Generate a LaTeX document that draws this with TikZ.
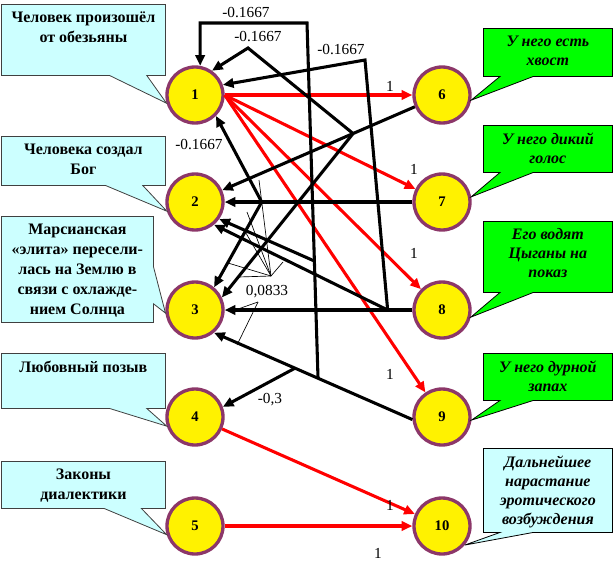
\documentclass[tikz,border=0pt]{standalone}
\usepackage{fontspec}
\setmainfont{Liberation Serif}
\usetikzlibrary{arrows.meta,shapes.callouts,calc}
\definecolor{noteblue}{RGB}{204,255,255}
\definecolor{notegreen}{RGB}{0,255,0}
\definecolor{rim}{RGB}{140,55,105}
\newcommand\DrawNote[7]{
	\node [#1, anchor=north west, minimum width=#4*0.75pt, minimum height=#5*0.75pt, callout absolute pointer={(#6)}] (#2) at (#3)
		{\parbox[c][\dimexpr #5pt*3/4\relax][t]{\dimexpr #4pt*3/4\relax}{\centering\vspace*{5.5pt}#7}};
}
\newcommand*{\xLeft}{195}
\newcommand*{\xRight}{442}

\begin{document}
\begin{tikzpicture}[x=0.75pt, y=-0.75pt,
	vertex/.style={circle, draw=rim, line width=2.5pt, fill=yellow, minimum size=42pt, inner sep=0pt, font=\fontsize{11}{13}\selectfont\bfseries},
	leftnote/.style={rectangle callout, draw=black!75, line width=0.6pt, fill=noteblue, inner sep=0pt, callout pointer width=28pt, font=\fontsize{12}{15}\selectfont\bfseries},
	rightnote/.style={leftnote, draw=black, fill=notegreen, callout pointer width=25pt, font=\fontsize{12}{14.3}\selectfont\bfseries\itshape},
	endnote/.style={rightnote, fill=noteblue},
	link/.style={draw, line width=2.3pt, -{Triangle[length=8pt,width=7pt]}},
	excite/.style={link, red},
	inhibit/.style={link, black},
	lead/.style={draw, line width=0.5pt},
	weight/.style={font=\fontsize{11.5}{13}\selectfont, inner sep=1pt}]
	\useasboundingbox (0,0) rectangle (614,565);
	\foreach \i/\y in {1/95,2/202,3/310,4/417,5/526}
	{
		\node [vertex] (n\i) at (\xLeft,\y) {\i};
	}
	\foreach \i/\y in {6/95,7/202,8/310,9/417,10/526}
	{
		\node [vertex] (n\i) at (\xRight,\y) {\i};
	}
	\foreach \j in {6,7,8,9}
	{
		\path [excite] (n1.east) -- (n\j);
	}
	\path [excite] (n4) -- (n10);
	\path [excite] (n5) -- (n10);
	\coordinate (j6) at ($(n6)!0.36!(n2)$);
	\coordinate (j7) at ($(n7)!0.73!(n2)$);
	\coordinate (j8) at ($(n8)!0.22!(n3)$);
	\coordinate (j9) at ($(n9.185)!0.476!(n3.-50)$);
	\coordinate (j9d) at ($(n9.185)!0.592!(n3.-50)$);
	\coordinate (c6) at (248,48);
	\coordinate (c8) at (365,60);
	\coordinate (c9) at (307,23);
	\coordinate (j9c) at ($(j9)!0.33!(c9)$);
	\path [inhibit] (n6) -- (n2);
	\path [inhibit] (n7) -- (n2);
	\path [inhibit] (n8) -- (n3);
	\path [inhibit] (n9.185) -- (n3.-50);
	\path [inhibit] (j6) -- (c6) -- (n1.55);
	\path [inhibit] (j6) -- (n3.25);
	\path [inhibit] (j7) -- (n1.-45);
	\path [inhibit] (j7) -- (n3.50);
	\path [inhibit] (j8) -- (c8) -- (n1.20);
	\path [inhibit] (j8) -- (n2.-50);
	\path [inhibit] (j9) -- (c9) -| (n1.80);
	\path [inhibit] (j9c) -- (n2.-35);
	\path [inhibit] (j9d) -- (n4.20);
	\coordinate (f1) at (271,276);
	\coordinate (f2) at (258,302);
	\foreach \x/\y in {259/180,247/212,243/228,228/263,283/262,238/277}
	{
		\path [lead] (f1) -- (\x,\y);
	}
	\foreach \x/\y in {238/309,237/345}
	{
		\path [lead] (f2) -- (\x,\y);
	}
	\node [weight] (w1) at (246,13) {-0.1667};
	\node [weight] (w2) at (258,37) {-0.1667};
	\node [weight] (w3) at (341,50) {-0.1667};
	\node [weight] (w4) at (199,145) {-0.1667};
	\node [weight] (w5) at (267,292) {0,0833};
	\node [weight] (w6) at (270,400) {-0,3};
	\foreach \k/\x/\y in {1/390/86,2/414/169,3/414/253,4/390/374,5/390/505,6/378/553}
	{
		\node [weight] (u\k) at (\x,\y) {1};
	}
	\DrawNote{leftnote}{t1}{1,4}{164}{71}{n1.196}{Человек произошёл\\от обезьяны}
	\DrawNote{leftnote}{t2}{1,136}{164}{49}{n2.198}{Человека создал\\Бог}
	\DrawNote{leftnote}{t3}{1,216}{152}{106}{n3.186}{Марсианская\\«элита» пересели-\\лась на Землю в\\связи с охлажде-\\нием Солнца}
	\DrawNote{leftnote}{t4}{1,353}{164}{55}{n4.198}{Любовный позыв}
	\DrawNote{leftnote}{t5}{1,461}{164}{47}{n5.197}{Законы\\диалектики}
	\DrawNote{rightnote}{t6}{483,28}{129}{48}{n6.350}{У него есть\\хвост}
	\DrawNote{rightnote}{t7}{483,125}{129}{47}{n7.10}{У него дикий\\голос}
	\DrawNote{rightnote}{t8}{483,221}{129}{71}{n8.346}{Его водят\\Цыганы на\\показ}
	\DrawNote{rightnote}{t9}{483,353}{129}{47}{n9.354}{У него дурной\\запах}
	\DrawNote{endnote}{t10}{483,448}{129}{84}{n10.320}{Дальнейшее\\нарастание\\эротического\\возбуждения}
\end{tikzpicture}
\end{document}
